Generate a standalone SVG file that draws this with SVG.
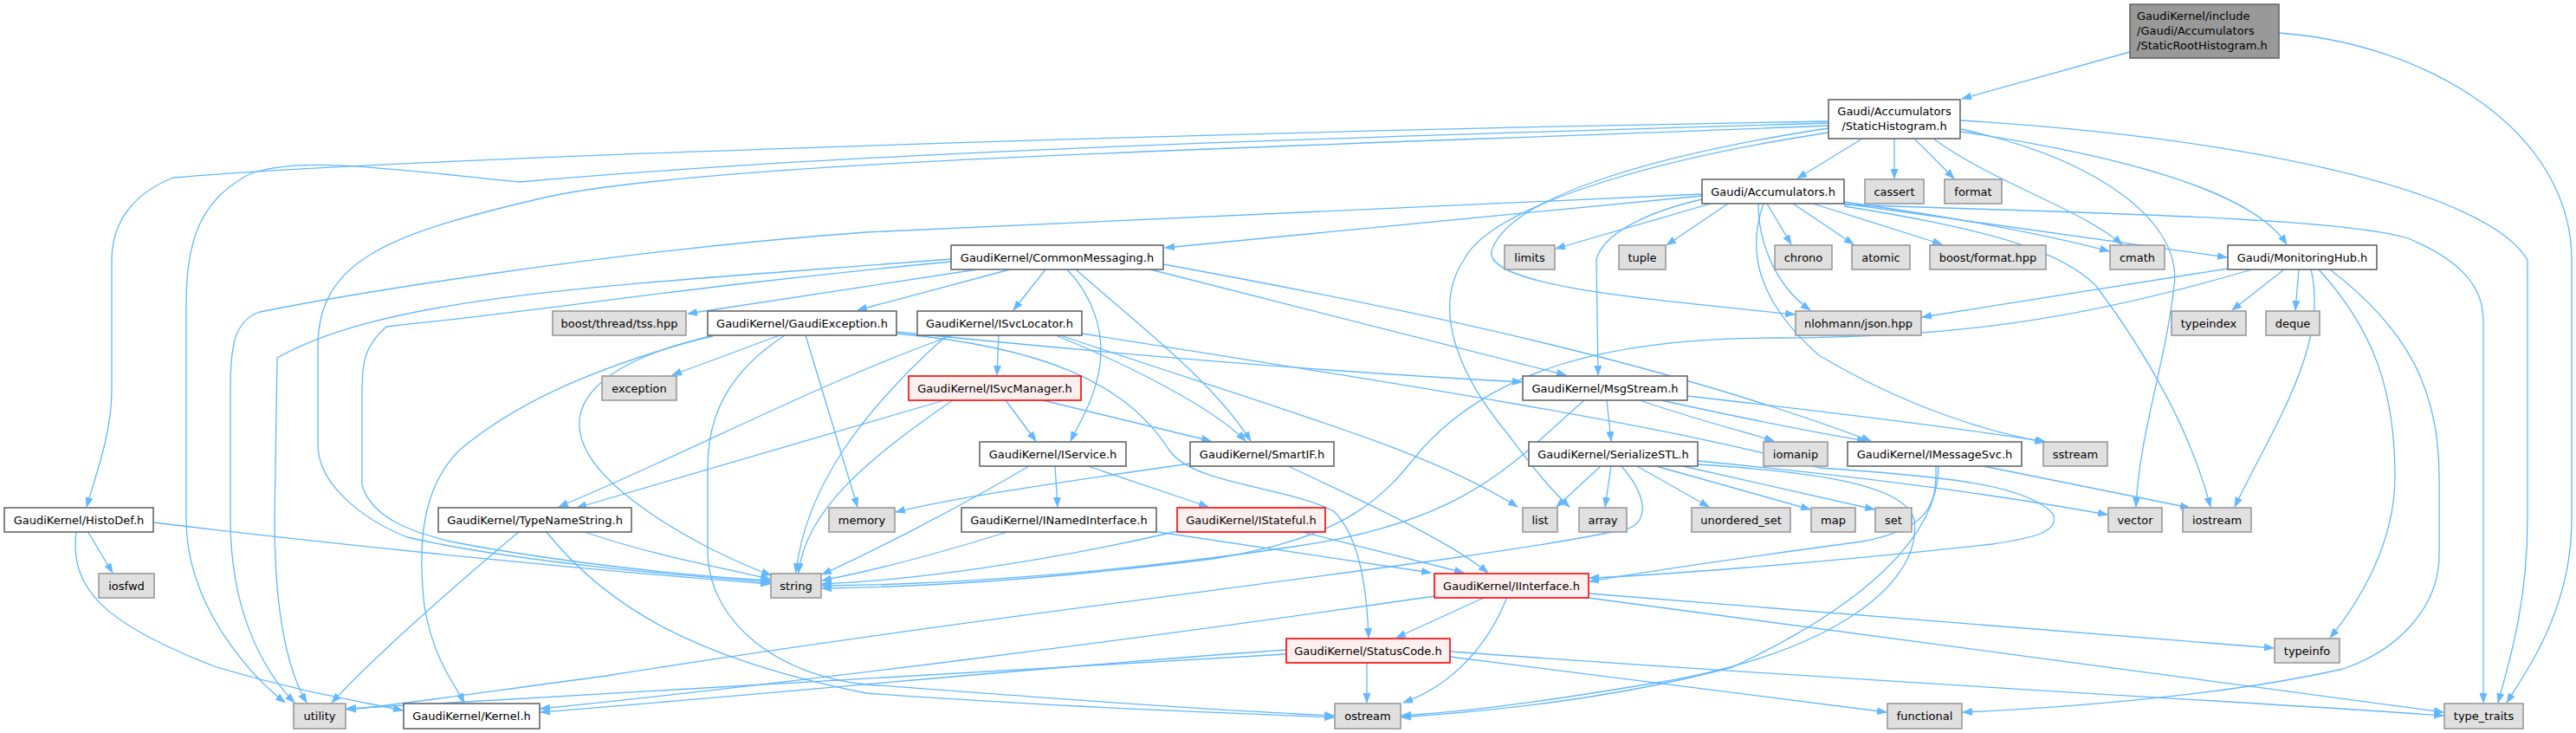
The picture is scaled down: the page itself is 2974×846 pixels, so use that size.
<svg xmlns="http://www.w3.org/2000/svg" width="2974" height="846" viewBox="0 0 2974 846">
<style>
text{font-family:"DejaVu Sans","Liberation Sans",sans-serif;font-size:13px;fill:#000;text-anchor:middle}
.n rect{fill:#fff;stroke:#666;stroke-width:1.6}
.g rect{fill:#e0e0e0;stroke:#999;stroke-width:1.6}
.r rect{fill:#fff0f0;stroke:#f00;stroke-width:1.6}
.root rect{fill:#999;stroke:#666;stroke-width:1.6}
.root text{text-anchor:start}
#edges path{fill:none;stroke:#63b8ff;stroke-width:1.3;marker-end:url(#a)}
</style>
<defs>
<marker id="a" markerWidth="12" markerHeight="9" refX="11" refY="4.5" orient="auto" markerUnits="userSpaceOnUse"><path d="M0,0 L12,4.5 L0,9 z" fill="#63b8ff" stroke="none"/></marker>
</defs>
<rect width="2974" height="846" fill="#fff"/>
<g id="edges">
<path d="M2459,60 L2265,114"/>
<path d="M2631,38 C2800,50 2969,150 2969,300 L2969,600 C2969,700 2920,770 2894,811"/>
<path d="M2150,160 L2075,206"/>
<path d="M2187,160 L2187,206"/>
<path d="M2210,160 L2256,206"/>
<path d="M2232,160 C2300,210 2400,240 2450,282"/>
<path d="M2264,152 C2450,180 2600,220 2640,282"/>
<path d="M2264,139 C2600,160 2870,220 2918,300 L2918,600 C2918,700 2895,770 2884,811"/>
<path d="M2264,149 C2430,185 2520,260 2510,330 C2500,420 2470,500 2466,585"/>
<path d="M2111,148 C1900,180 1740,230 1722,290 C1715,330 1900,345 2072,363"/>
<path d="M2111,153 C1900,185 1720,240 1690,300 C1650,360 1690,440 1740,500 C1770,540 1790,565 1812,585"/>
<path d="M2111,145 C1500,170 800,185 620,230 C450,270 367,300 367,400 L367,513 C367,560 420,600 470,620 C600,650 800,665 889,672"/>
<path d="M2111,142 C1500,160 1000,175 600,210 C450,195 350,180 290,200 C230,230 215,280 215,350 L215,600 C215,700 290,780 329,811"/>
<path d="M2111,140 C1500,150 500,180 200,205 C150,225 129,260 129,300 L129,450 C129,500 110,550 100,585"/>
<path d="M2129,235 C2300,260 2450,280 2571,297"/>
<path d="M2040,235 L2068,282"/>
<path d="M2070,235 L2140,282"/>
<path d="M2093,235 L2242,282"/>
<path d="M2129,233 C2250,250 2360,270 2435,290"/>
<path d="M2129,236 C2370,245 2700,250 2780,275 C2840,300 2867,330 2867,370 L2867,811"/>
<path d="M1975,235 L1796,287"/>
<path d="M1995,235 L1924,283"/>
<path d="M1965,226 L1345,286"/>
<path d="M1965,224 L1000,268 C700,290 400,340 300,360 C270,370 266,400 266,450 L266,600 C266,700 300,770 340,811"/>
<path d="M2030,235 C2030,280 2050,330 2090,358"/>
<path d="M1965,230 C1900,245 1850,270 1843,300 L1845,433"/>
<path d="M2036,235 C2020,280 2020,340 2100,410 C2200,470 2300,500 2360,510"/>
<path d="M2129,238 C2300,265 2380,290 2420,330 C2480,410 2530,500 2552,585"/>
<path d="M1207,311 L1170,358"/>
<path d="M1232,311 C1260,340 1275,380 1270,420 C1265,460 1245,490 1236,509"/>
<path d="M1242,311 C1320,380 1400,440 1444,509"/>
<path d="M1328,311 L1808,433"/>
<path d="M1343,305 C1700,370 1950,430 2160,509"/>
<path d="M1166,311 L990,358"/>
<path d="M1128,311 L794,362"/>
<path d="M1098,299 C700,330 450,340 320,413 L317,600 C317,700 330,770 354,811"/>
<path d="M1098,302 C800,330 640,357 446,377 C420,400 418,420 418,450 L418,560 C430,600 480,615 520,625 C650,650 800,665 889,670"/>
<path d="M900,387 L776,433"/>
<path d="M930,387 L990,585"/>
<path d="M823,387 C700,420 600,460 530,520 C490,560 481,620 490,700 C500,760 525,790 536,811"/>
<path d="M823,388 C720,410 660,450 670,500 C680,560 800,630 890,664"/>
<path d="M906,387 C840,430 817,480 817,540 L817,640 C820,720 900,780 1000,790 C1200,805 1400,820 1540,826"/>
<path d="M1035,385 C1200,400 1300,440 1350,520 C1380,560 1480,560 1540,590 C1570,620 1578,680 1580,736"/>
<path d="M1035,383 C1300,410 1550,430 1757,441"/>
<path d="M1153,387 L1151,433"/>
<path d="M1100,387 C950,440 800,520 645,585"/>
<path d="M1093,387 C1000,470 930,560 919,661"/>
<path d="M1219,387 C1300,420 1400,470 1438,509"/>
<path d="M1224,387 C1500,480 1650,520 1752,585"/>
<path d="M1249,385 C1600,440 1950,495 2100,540 C2250,550 2340,560 2370,593 C2380,615 2340,622 2300,628 C2100,650 1900,665 1835,667"/>
<path d="M1161,462 L1196,509"/>
<path d="M1204,462 L1398,509"/>
<path d="M1090,462 L666,586"/>
<path d="M1100,462 C1000,530 930,590 922,661"/>
<path d="M1218,538 L1221,585"/>
<path d="M1256,538 L1395,585"/>
<path d="M1188,538 C1100,590 1000,640 949,663"/>
<path d="M1374,535 C1200,560 1100,575 1034,591"/>
<path d="M1487,538 C1600,590 1680,630 1718,661"/>
<path d="M1330,613 L1652,661"/>
<path d="M1166,613 C1080,640 1000,660 949,670"/>
<path d="M1500,613 L1690,661"/>
<path d="M1360,613 C1200,650 1050,670 949,674"/>
<path d="M1918,462 C2000,480 2100,500 2155,509"/>
<path d="M1893,462 C1960,485 2020,500 2048,509"/>
<path d="M1948,457 C2150,480 2300,500 2362,510"/>
<path d="M1855,462 L1860,509"/>
<path d="M1829,462 C1750,530 1700,600 1500,630 C1300,660 1100,675 949,676"/>
<path d="M2572,310 L2219,366"/>
<path d="M2637,311 L2577,358"/>
<path d="M2654,311 L2650,358"/>
<path d="M2668,311 C2690,400 2620,500 2580,585"/>
<path d="M2677,311 C2740,380 2765,450 2765,550 C2765,630 2720,700 2690,736"/>
<path d="M2690,311 C2780,380 2816,450 2816,550 L2816,640 C2816,700 2770,750 2705,772 C2560,805 2360,818 2266,822"/>
<path d="M2600,311 C2400,370 2250,390 2050,390 C1850,390 1720,430 1640,520 C1600,570 1560,620 1400,645 C1200,670 1050,678 949,679"/>
<path d="M1848,538 L1797,585"/>
<path d="M1860,538 L1853,585"/>
<path d="M1890,538 L1973,585"/>
<path d="M1912,538 L2090,588"/>
<path d="M1943,538 L2164,588"/>
<path d="M1960,532 C2150,550 2300,570 2433,594"/>
<path d="M1872,538 C1900,570 1905,600 1880,610 C1700,650 1200,700 700,780 C550,800 450,815 400,819"/>
<path d="M1960,536 C2100,545 2200,560 2210,600 C2220,680 2100,760 1900,790 C1750,815 1680,822 1618,826"/>
<path d="M2290,538 L2528,586"/>
<path d="M2235,538 C2236,580 2230,610 2150,625 C2000,645 1900,660 1835,671"/>
<path d="M2238,538 C2238,620 2150,700 2000,770 C1850,810 1700,822 1618,828"/>
<path d="M1715,689 L1612,736"/>
<path d="M1740,689 C1720,740 1680,790 1620,811"/>
<path d="M1656,688 C1300,740 900,790 624,818"/>
<path d="M1834,685 L2625,748"/>
<path d="M1834,690 L2821,822"/>
<path d="M1578,765 L1578,811"/>
<path d="M1485,750 C1200,770 900,800 624,822"/>
<path d="M1485,755 C1000,780 600,805 400,818"/>
<path d="M1674,758 L2178,822"/>
<path d="M1674,752 C2200,790 2600,810 2821,826"/>
<path d="M101,613 L130,661"/>
<path d="M88,613 C80,680 120,720 250,770 C350,800 420,810 465,820"/>
<path d="M177,603 C400,630 700,660 889,674"/>
<path d="M672,613 C750,640 830,655 889,668"/>
<path d="M600,613 C520,680 430,760 383,811"/>
<path d="M630,613 C700,700 800,760 1000,800 C1200,815 1400,822 1540,828"/>
</g>
<g id="root" class="root"><rect x="2459" y="5" width="172" height="62"/><text x="2467" y="23">GaudiKernel/include</text><text x="2467" y="40">/Gaudi/Accumulators</text><text x="2467" y="57">/StaticRootHistogram.h</text></g>
<g id="StaticHistogram" class="n"><rect x="2111" y="115" width="152" height="45"/><text x="2187" y="133">Gaudi/Accumulators</text><text x="2187" y="150">/StaticHistogram.h</text></g>
<g id="Accumulators" class="n"><rect x="1965" y="207" width="164" height="28"/><text x="2047" y="225.5">Gaudi/Accumulators.h</text></g>
<g id="cassert" class="g"><rect x="2153" y="207" width="68" height="28"/><text x="2187" y="225.5">cassert</text></g>
<g id="format" class="g"><rect x="2245" y="207" width="66" height="28"/><text x="2278" y="225.5">format</text></g>
<g id="chrono" class="g"><rect x="2049" y="283" width="66" height="28"/><text x="2082" y="301.5">chrono</text></g>
<g id="atomic" class="g"><rect x="2138" y="283" width="67" height="28"/><text x="2171.5" y="301.5">atomic</text></g>
<g id="boostformat" class="g"><rect x="2228" y="283" width="134" height="28"/><text x="2295" y="301.5">boost/format.hpp</text></g>
<g id="cmath" class="g"><rect x="2436" y="283" width="63" height="28"/><text x="2467.5" y="301.5">cmath</text></g>
<g id="MonitoringHub" class="n"><rect x="2572" y="283" width="172" height="28"/><text x="2658" y="301.5">Gaudi/MonitoringHub.h</text></g>
<g id="CommonMessaging" class="n"><rect x="1098" y="283" width="245" height="28"/><text x="1220.5" y="301.5">GaudiKernel/CommonMessaging.h</text></g>
<g id="limits" class="g"><rect x="1737" y="283" width="58" height="28"/><text x="1766" y="301.5">limits</text></g>
<g id="tuple" class="g"><rect x="1869" y="283" width="54" height="28"/><text x="1896" y="301.5">tuple</text></g>
<g id="tss" class="g"><rect x="638" y="359" width="154" height="28"/><text x="715" y="377.5">boost/thread/tss.hpp</text></g>
<g id="GaudiException" class="n"><rect x="817" y="359" width="218" height="28"/><text x="926" y="377.5">GaudiKernel/GaudiException.h</text></g>
<g id="ISvcLocator" class="n"><rect x="1059" y="359" width="190" height="28"/><text x="1154" y="377.5">GaudiKernel/ISvcLocator.h</text></g>
<g id="json" class="g"><rect x="2073" y="359" width="145" height="28"/><text x="2145.5" y="377.5">nlohmann/json.hpp</text></g>
<g id="typeindex" class="g"><rect x="2507" y="359" width="86" height="28"/><text x="2550" y="377.5">typeindex</text></g>
<g id="deque" class="g"><rect x="2616" y="359" width="62" height="28"/><text x="2647" y="377.5">deque</text></g>
<g id="exception" class="g"><rect x="695" y="434" width="86" height="28"/><text x="738" y="452.5">exception</text></g>
<g id="ISvcManager" class="r"><rect x="1049" y="434" width="199" height="28"/><text x="1148.5" y="452.5">GaudiKernel/ISvcManager.h</text></g>
<g id="MsgStream" class="n"><rect x="1758" y="434" width="190" height="28"/><text x="1853" y="452.5">GaudiKernel/MsgStream.h</text></g>
<g id="IService" class="n"><rect x="1131" y="510" width="169" height="28"/><text x="1215.5" y="528.5">GaudiKernel/IService.h</text></g>
<g id="SmartIF" class="n"><rect x="1374" y="510" width="166" height="28"/><text x="1457" y="528.5">GaudiKernel/SmartIF.h</text></g>
<g id="SerializeSTL" class="n"><rect x="1765" y="510" width="195" height="28"/><text x="1862.5" y="528.5">GaudiKernel/SerializeSTL.h</text></g>
<g id="iomanip" class="g"><rect x="2036" y="510" width="74" height="28"/><text x="2073" y="528.5">iomanip</text></g>
<g id="IMessageSvc" class="n"><rect x="2133" y="510" width="201" height="28"/><text x="2233.5" y="528.5">GaudiKernel/IMessageSvc.h</text></g>
<g id="sstream" class="g"><rect x="2359" y="510" width="74" height="28"/><text x="2396" y="528.5">sstream</text></g>
<g id="HistoDef" class="n"><rect x="5" y="586" width="172" height="28"/><text x="91" y="604.5">GaudiKernel/HistoDef.h</text></g>
<g id="TypeNameString" class="n"><rect x="506" y="586" width="223" height="28"/><text x="617.5" y="604.5">GaudiKernel/TypeNameString.h</text></g>
<g id="memory" class="g"><rect x="957" y="586" width="76" height="28"/><text x="995" y="604.5">memory</text></g>
<g id="INamedInterface" class="n"><rect x="1110" y="586" width="225" height="28"/><text x="1222.5" y="604.5">GaudiKernel/INamedInterface.h</text></g>
<g id="IStateful" class="r"><rect x="1359" y="586" width="171" height="28"/><text x="1444.5" y="604.5">GaudiKernel/IStateful.h</text></g>
<g id="list" class="g"><rect x="1758" y="586" width="40" height="28"/><text x="1778" y="604.5">list</text></g>
<g id="array" class="g"><rect x="1823" y="586" width="55" height="28"/><text x="1850.5" y="604.5">array</text></g>
<g id="unordered_set" class="g"><rect x="1953" y="586" width="114" height="28"/><text x="2010" y="604.5">unordered_set</text></g>
<g id="map" class="g"><rect x="2091" y="586" width="51" height="28"/><text x="2116.5" y="604.5">map</text></g>
<g id="set" class="g"><rect x="2165" y="586" width="42" height="28"/><text x="2186" y="604.5">set</text></g>
<g id="vector" class="g"><rect x="2434" y="586" width="62" height="28"/><text x="2465" y="604.5">vector</text></g>
<g id="iostream" class="g"><rect x="2520" y="586" width="79" height="28"/><text x="2559.5" y="604.5">iostream</text></g>
<g id="iosfwd" class="g"><rect x="114" y="662" width="64" height="28"/><text x="146" y="680.5">iosfwd</text></g>
<g id="string" class="g"><rect x="890" y="662" width="58" height="28"/><text x="919" y="680.5">string</text></g>
<g id="IInterface" class="r"><rect x="1656" y="662" width="178" height="28"/><text x="1745" y="680.5">GaudiKernel/IInterface.h</text></g>
<g id="StatusCode" class="r"><rect x="1485" y="737" width="189" height="28"/><text x="1579.5" y="755.5">GaudiKernel/StatusCode.h</text></g>
<g id="typeinfo" class="g"><rect x="2626" y="737" width="75" height="28"/><text x="2663.5" y="755.5">typeinfo</text></g>
<g id="utility" class="g"><rect x="339" y="812" width="60" height="29"/><text x="369" y="831">utility</text></g>
<g id="Kernel" class="n"><rect x="466" y="812" width="157" height="29"/><text x="544.5" y="831">GaudiKernel/Kernel.h</text></g>
<g id="ostream" class="g"><rect x="1541" y="812" width="76" height="29"/><text x="1579" y="831">ostream</text></g>
<g id="functional" class="g"><rect x="2179" y="812" width="86" height="29"/><text x="2222" y="831">functional</text></g>
<g id="type_traits" class="g"><rect x="2822" y="812" width="91" height="29"/><text x="2867.5" y="831">type_traits</text></g>
</svg>
